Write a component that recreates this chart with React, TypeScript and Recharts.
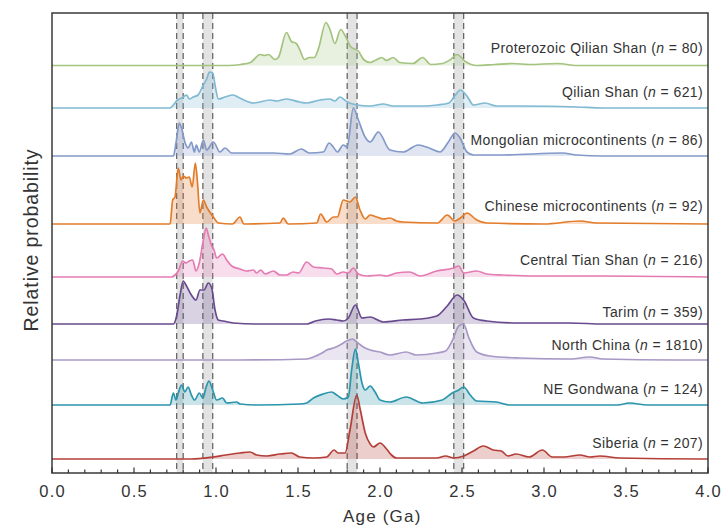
import React from 'react';
import { ComposedChart, Area, XAxis, YAxis, ReferenceArea, ReferenceDot } from 'recharts';

// age ticks (Ga) along x, labels only on the majors
const ageTicks = [
  0, 0.1, 0.2, 0.3, 0.4, 0.5, 0.6, 0.7, 0.8, 0.9, 1.0, 1.1, 1.2, 1.3, 1.4, 1.5, 1.6, 1.7, 1.8, 1.9, 2.0,
  2.1, 2.2, 2.3, 2.4, 2.5, 2.6, 2.7, 2.8, 2.9, 3.0, 3.1, 3.2, 3.3, 3.4, 3.5, 3.6, 3.7, 3.8, 3.9, 4.0,
];
const majorTicks = ['0.0', '0.5', '1.0', '1.5', '2.0', '2.5', '3.0', '3.5', '4.0'];

// grey age windows (Ga)
const bandStarts = [0.76, 0.92, 1.8, 2.45];
const bandEnds = [0.8, 0.98, 1.86, 2.51];

const seriesNames = [
  'Proterozoic Qilian Shan',
  'Qilian Shan',
  'Mongolian microcontinents',
  'Chinese microcontinents',
  'Central Tian Shan',
  'Tarim',
  'North China',
  'NE Gondwana',
  'Siberia',
];
const sampleCounts = [80, 621, 86, 92, 216, 359, 1810, 124, 207];

// [age Ga, relative probability]
const proterozoicQilianShan = [
  [0, 0], [1.08, 0], [1.15, 1], [1.21, 3], [1.27, 11], [1.295, 10], [1.32, 11], [1.36, 6], [1.38, 8],
  [1.43, 33], [1.46, 24], [1.49, 22], [1.51, 16], [1.54, 6], [1.57, 8], [1.6, 8], [1.625, 17], [1.67, 43],
  [1.695, 36], [1.725, 22], [1.76, 36], [1.79, 29], [1.82, 19], [1.87, 14], [1.9, 6], [1.94, 3], [1.97, 5],
  [2.01, 8], [2.04, 5], [2.08, 8], [2.12, 3], [2.2, 2], [2.26, 8], [2.31, 1], [2.38, 2], [2.43, 6],
  [2.47, 11], [2.52, 4], [2.59, 0], [2.7, 1], [2.81, 2], [2.91, 1], [3.08, 2], [3.2, 0], [4, 0],
];
const qilianShan = [
  [0, 0], [0.72, 0], [0.74, 3], [0.765, 8], [0.79, 10], [0.8, 11], [0.82, 13], [0.837, 9], [0.862, 11],
  [0.89, 13], [0.923, 23], [0.943, 29], [0.96, 36], [0.98, 35], [0.995, 22], [1.015, 9], [1.055, 11],
  [1.105, 13], [1.145, 10], [1.23, 5], [1.33, 8], [1.37, 7], [1.43, 9], [1.51, 6], [1.55, 5], [1.635, 8],
  [1.695, 9], [1.725, 7], [1.755, 11], [1.8, 6], [1.86, 3], [1.94, 2], [2.02, 4], [2.08, 2], [2.18, 2],
  [2.26, 2], [2.35, 3], [2.42, 5], [2.455, 12], [2.49, 18], [2.53, 12], [2.57, 3], [2.64, 5], [2.71, 2],
  [2.85, 2], [3.2, 1], [3.36, 0], [4, 0],
];
const mongolian = [
  [0, 0], [0.74, 0], [0.756, 13], [0.776, 33], [0.79, 28], [0.81, 14], [0.83, 8], [0.85, 14], [0.868, 4],
  [0.88, 11], [0.898, 4], [0.923, 16], [0.943, 6], [0.984, 14], [1.024, 4], [1.055, 8], [1.096, 3],
  [1.25, 3], [1.35, 3], [1.45, 2], [1.52, 7], [1.57, 3], [1.654, 4], [1.69, 13], [1.715, 9], [1.74, 4],
  [1.776, 11], [1.8, 9], [1.837, 48], [1.868, 36], [1.909, 19], [1.94, 14], [1.99, 24], [2.06, 6],
  [2.14, 4], [2.233, 11], [2.3, 8], [2.366, 4], [2.417, 14], [2.457, 23], [2.488, 18], [2.53, 4],
  [2.57, 1], [2.75, 1], [3.11, 3], [3.2, 1], [3.36, 0], [4, 0],
];
const chinese = [
  [0, 0], [0.72, 0], [0.736, 24], [0.75, 27], [0.77, 56], [0.787, 44], [0.8, 48], [0.82, 46], [0.837, 47],
  [0.855, 37], [0.874, 61], [0.886, 44], [0.902, 11], [0.923, 24], [0.943, 17], [0.984, 7], [1.014, 1],
  [1.1, 0], [1.146, 7], [1.17, 0], [1.39, 1], [1.41, 6], [1.44, 0], [1.614, 1], [1.638, 10], [1.675, 2],
  [1.716, 7], [1.74, 7], [1.776, 24], [1.817, 22], [1.85, 27], [1.878, 14], [1.91, 5], [1.94, 9],
  [1.98, 7], [2.02, 5], [2.06, 6], [2.1, 3], [2.14, 2], [2.35, 1], [2.41, 9], [2.457, 3], [2.49, 6],
  [2.53, 11], [2.59, 4], [2.65, 1], [3.0, 0], [3.22, 3], [3.32, 1], [4, 0],
];
const centralTianShan = [
  [0, 0], [0.73, 0], [0.75, 2], [0.77, 6], [0.796, 16], [0.817, 14], [0.837, 16], [0.858, 17], [0.878, 6],
  [0.898, 14], [0.923, 37], [0.94, 49], [0.955, 41], [0.974, 31], [0.988, 27], [1.004, 19], [1.04, 23],
  [1.065, 17], [1.096, 11], [1.146, 8], [1.187, 6], [1.228, 7], [1.248, 4], [1.272, 7], [1.3, 3],
  [1.35, 6], [1.39, 2], [1.43, 2], [1.47, 5], [1.504, 4], [1.553, 15], [1.594, 10], [1.654, 9],
  [1.705, 8], [1.736, 3], [1.776, 5], [1.807, 4], [1.837, 9], [1.868, 3], [1.92, 1], [2.0, 2], [2.04, 1],
  [2.1, 4], [2.18, 5], [2.245, 1], [2.346, 6], [2.45, 9], [2.48, 11], [2.51, 4], [2.59, 6], [2.65, 3],
  [2.75, 2], [2.955, 1], [3.36, 1], [4, 0],
];
const tarim = [
  [0, 0], [0.74, 0], [0.76, 8], [0.78, 28], [0.8, 43], [0.82, 38], [0.85, 29], [0.878, 24], [0.902, 34],
  [0.927, 34], [0.953, 41], [0.974, 36], [0.994, 14], [1.014, 4], [1.045, 3], [1.106, 1], [1.25, 0],
  [1.553, 0], [1.606, 3], [1.687, 5], [1.736, 4], [1.776, 3], [1.807, 6], [1.85, 19], [1.89, 6],
  [1.939, 7], [2.0, 3], [2.02, 2], [2.14, 4], [2.245, 5], [2.346, 8], [2.41, 18], [2.47, 29], [2.51, 24],
  [2.57, 6], [2.65, 3], [2.85, 1], [3.16, 1], [3.36, 0], [4, 0],
];
const northChina = [
  [0, 0], [1.15, 0], [1.553, 1], [1.594, 3], [1.646, 7], [1.675, 10], [1.716, 12], [1.756, 15],
  [1.797, 19], [1.833, 21], [1.858, 18], [1.898, 13], [1.94, 10], [2.0, 8], [2.06, 5], [2.16, 8],
  [2.22, 5], [2.346, 7], [2.4, 9], [2.44, 19], [2.48, 34], [2.51, 36], [2.54, 23], [2.59, 8], [2.67, 4],
  [2.85, 2], [3.16, 1], [3.28, 3], [3.36, 1], [3.8, 0], [4, 0],
];
const neGondwana = [
  [0, 0], [0.72, 0], [0.74, 12], [0.756, 5], [0.77, 12], [0.79, 20], [0.81, 13], [0.83, 18], [0.85, 10],
  [0.87, 5], [0.898, 12], [0.92, 7], [0.94, 18], [0.957, 24], [0.98, 15], [1.004, 5], [1.04, 7],
  [1.065, 2], [1.126, 3], [1.146, 1], [1.25, 0], [1.51, 1], [1.553, 2], [1.594, 7], [1.654, 11],
  [1.705, 13], [1.736, 10], [1.776, 6], [1.807, 8], [1.827, 35], [1.85, 56], [1.868, 42], [1.89, 22],
  [1.91, 15], [1.94, 19], [1.97, 13], [2.0, 5], [2.06, 3], [2.16, 8], [2.26, 2], [2.38, 5], [2.44, 12],
  [2.48, 15], [2.51, 18], [2.55, 10], [2.59, 4], [2.71, 3], [2.79, 0], [3.45, 0], [3.52, 2], [3.63, 0],
  [4, 0],
];
const siberia = [
  [0, 0], [0.85, 0], [0.98, 2], [1.06, 4], [1.146, 6], [1.207, 7], [1.248, 4], [1.31, 3], [1.39, 5],
  [1.46, 6], [1.51, 2], [1.594, 1], [1.675, 2], [1.72, 9], [1.745, 6], [1.787, 6], [1.817, 29],
  [1.858, 64], [1.88, 49], [1.91, 26], [1.94, 15], [1.96, 12], [2.0, 16], [2.04, 10], [2.07, 4],
  [2.1, 1], [2.346, 1], [2.4, 3], [2.45, 1], [2.51, 3], [2.57, 8], [2.63, 13], [2.69, 9], [2.74, 8],
  [2.78, 3], [2.83, 5], [2.91, 2], [2.99, 9], [3.05, 2], [3.12, 2], [3.22, 4], [3.28, 2], [3.34, 3],
  [3.46, 1], [3.97, 0], [4, 0],
];

const seriesPoints = [
  proterozoicQilianShan, qilianShan, mongolian, chinese, centralTianShan,
  tarim, northChina, neGondwana, siberia,
];

// layout: ridge baselines and label heights (plot units = px above the x axis)
const baselines = [407.5, 365, 317, 249, 196, 149, 113, 68, 14];
const labelHeights = [420, 376.5, 328, 262, 208, 156, 123, 79, 25];
const colors = ['#a3c37e', '#80b9d2', '#8299c9', '#e27c2b', '#e57bb3', '#684a8e', '#a898c6', '#2b95ac', '#b43f38'];

const FONT = '"Liberation Sans", Arial, Helvetica, sans-serif';
const INK = '#333';

const BottomTick = (props: any) => {
  const { x, y, payload } = props;
  const label = majorTicks.find((t) => Math.abs(parseFloat(t) - payload.value) < 1e-6);
  return (
    <g>
      <line x1={x} x2={x} y1={y} y2={y - (label ? 5.5 : 3.5)} stroke={INK} strokeWidth={1.2} />
      {label && (
        <text x={x + 0.6} y={y + 24} textAnchor="middle" fontSize={16.5} letterSpacing={1.2} fill={INK} fontFamily={FONT}>
          {label}
        </text>
      )}
    </g>
  );
};

const TopTick = (props: any) => {
  const { x, y, payload } = props;
  const major = majorTicks.some((t) => Math.abs(parseFloat(t) - payload.value) < 1e-6);
  return <line x1={x} x2={x} y1={y} y2={y + (major ? 5.5 : 3.5)} stroke={INK} strokeWidth={1.2} />;
};

// grey window with dashed edges
const Band = (props: any) => {
  const { x, y, width, height } = props;
  return (
    <g>
      <rect x={x} y={y} width={width} height={height} fill="#bcbcbc" fillOpacity={0.42} />
      <line x1={x} x2={x} y1={y} y2={y + height} stroke="#686868" strokeWidth={1.3} strokeDasharray="6 4" />
      <line x1={x + width} x2={x + width} y1={y} y2={y + height} stroke="#686868" strokeWidth={1.3} strokeDasharray="6 4" />
    </g>
  );
};

export default function App() {
  const series = seriesPoints.map((pts, i) => ({
    name: seriesNames[i],
    n: sampleCounts[i],
    color: colors[i],
    base: baselines[i],
    labelY: labelHeights[i],
    data: pts.map(([age, p]) => ({ age, value: baselines[i] + p })),
  }));

  return (
    <div style={{ position: 'absolute', left: 0, top: 0, width: 723, height: 527, background: '#fff' }}>
      <ComposedChart width={723} height={527} margin={{ top: 13, right: 15, bottom: 24, left: 52 }}>
        <XAxis
          dataKey="age"
          type="number"
          domain={[0, 4]}
          ticks={ageTicks}
          interval={0}
          height={30}
          tickSize={0}
          tickMargin={0}
          axisLine={false}
          tickLine={false}
          tick={BottomTick}
          allowDataOverflow
        />
        <XAxis
          xAxisId="top"
          orientation="top"
          type="number"
          domain={[0, 4]}
          ticks={ageTicks}
          interval={0}
          height={0}
          tickSize={0}
          tickMargin={0}
          axisLine={false}
          tickLine={false}
          tick={TopTick}
          allowDataOverflow
        />
        <YAxis hide type="number" domain={[0, 460]} allowDataOverflow />

        {bandStarts.map((s, i) => (
          <ReferenceArea key={`band-${i}`} x1={s} x2={bandEnds[i]} shape={Band} {...({ zIndex: -10 } as any)} />
        ))}

        {series.map((s) => (
          <Area
            key={s.name}
            data={s.data}
            dataKey="value"
            type="monotone"
            baseValue={s.base}
            stroke={s.color}
            strokeWidth={1.7}
            fill={s.color}
            fillOpacity={0.25}
            dot={false}
            activeDot={false}
            isAnimationActive={false}
          />
        ))}

        {series.map((s) => (
          <ReferenceDot
            key={`lab-${s.name}`}
            x={3.97}
            y={s.labelY}
            r={0}
            ifOverflow="visible"
            shape={(p: any) => (
              <text x={p.cx} y={p.cy} textAnchor="end" fontSize={14} letterSpacing={0.4} fill={INK} fontFamily={FONT}>
                {s.name} (<tspan fontStyle="italic">n</tspan> = {s.n})
              </text>
            )}
          />
        ))}

        <ReferenceDot
          x={2.01}
          y={-48.7}
          r={0}
          ifOverflow="visible"
          shape={(p: any) => (
            <text x={p.cx + 0.6} y={p.cy} textAnchor="middle" fontSize={17} letterSpacing={1.2} fill={INK} fontFamily={FONT}>
              Age (Ga)
            </text>
          )}
        />
        <ReferenceDot
          x={0}
          y={233}
          r={0}
          ifOverflow="visible"
          shape={(p: any) => (
            <text
              x={p.cx - 14}
              y={p.cy}
              transform={`rotate(-90 ${p.cx - 14} ${p.cy})`}
              textAnchor="middle"
              fontSize={19.5}
              letterSpacing={0.9}
              fill={INK}
              fontFamily={FONT}
            >
              Relative probability
            </text>
          )}
        />

        <ReferenceArea x1={0} x2={4} y1={0} y2={460} fill="none" stroke="#3a3a3a" strokeWidth={1.5} ifOverflow="visible" />
      </ComposedChart>
    </div>
  );
}
